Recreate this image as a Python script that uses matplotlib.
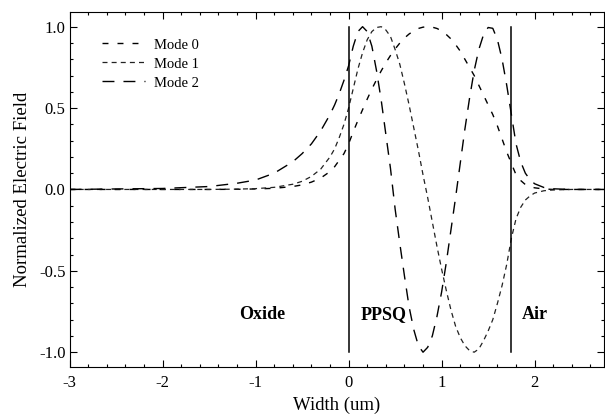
import numpy as np
import matplotlib
matplotlib.use("Agg")
import matplotlib.pyplot as plt
from matplotlib.ticker import MultipleLocator, FormatStrFormatter

plt.rcParams['font.family'] = ['Liberation Serif', 'DejaVu Serif']
plt.rcParams['axes.unicode_minus'] = False

# values (width in um, normalized field)
x_pts = [-3.0, -2.0, -1.5, -1.2, -1.0, -0.8, -0.6, -0.5, -0.4, -0.3,
         -0.2, -0.15, -0.1, -0.05, 0.0,
         0.05, 0.1, 0.15, 0.2, 0.25, 0.3, 0.35, 0.4, 0.45, 0.5,
         0.55, 0.6, 0.65, 0.7, 0.75, 0.8, 0.85, 0.9, 0.95, 1.0,
         1.05, 1.1, 1.15, 1.2, 1.25, 1.3, 1.35, 1.4, 1.45, 1.5,
         1.55, 1.6, 1.65, 1.7, 1.75,
         1.8, 1.85, 1.9, 1.95, 2.0, 2.1, 2.2, 2.4, 2.75]

mode0 = [0.0, 0.0, 0.0, 0.001, 0.003, 0.007, 0.018, 0.028, 0.045, 0.07,
         0.11, 0.14, 0.18, 0.22, 0.28,
         0.355, 0.424, 0.49, 0.555, 0.617, 0.674, 0.728, 0.778, 0.823, 0.863,
         0.899, 0.93, 0.955, 0.974, 0.989, 0.997, 1.0, 0.997, 0.989, 0.974,
         0.952, 0.925, 0.89, 0.85, 0.8, 0.75, 0.7, 0.64, 0.58, 0.52,
         0.46, 0.39, 0.31, 0.23, 0.16,
         0.09, 0.055, 0.03, 0.018, 0.01, 0.003, 0.0, 0.0, 0.0]

mode1 = [0.0, 0.0, 0.0, 0.002, 0.005, 0.013, 0.032, 0.05, 0.08, 0.125,
         0.2, 0.25, 0.32, 0.4, 0.5,
         0.62, 0.74, 0.84, 0.92, 0.97, 0.995, 1.0, 0.98, 0.94, 0.86,
         0.77, 0.65, 0.52, 0.38, 0.24, 0.09, -0.05, -0.2, -0.35, -0.49,
         -0.62, -0.74, -0.84, -0.91, -0.96, -0.99, -1.0, -0.98, -0.93, -0.87,
         -0.8, -0.7, -0.59, -0.46, -0.3,
         -0.18, -0.11, -0.065, -0.04, -0.022, -0.008, -0.003, 0.0, 0.0]

mode2 = [0.0, 0.006, 0.018, 0.038, 0.058, 0.1, 0.17, 0.22, 0.28, 0.36,
         0.46, 0.52, 0.59, 0.67, 0.76,
         0.88, 0.97, 1.0, 0.97, 0.88, 0.73, 0.55, 0.34, 0.13, -0.12,
         -0.33, -0.53, -0.72, -0.86, -0.96, -1.0, -0.97, -0.9, -0.78, -0.63,
         -0.45, -0.25, -0.05, 0.16, 0.37, 0.56, 0.73, 0.86, 0.95, 0.995,
         0.99, 0.92, 0.8, 0.64, 0.46,
         0.28, 0.17, 0.1, 0.06, 0.035, 0.012, 0.004, 0.0, 0.0]

boundaries = [0.0, 1.75]
regions = ["Oxide", "PPSQ", "Air"]
region_x = [-0.93, 0.38, 2.0]

fig = plt.figure(figsize=(6.05, 4.15), dpi=100)
ax = fig.add_axes([0.115, 0.116, 0.884, 0.855])

ax.plot(x_pts, mode0, color="black", lw=1.0, dashes=(4.3, 6.5), label="Mode 0")
ax.plot(x_pts, mode1, color="#222222", lw=0.9, dashes=(4.0, 3.3), label="Mode 1")
ax.plot(x_pts, mode2, color="black", lw=1.0, dashes=(8.6, 6.5), label="Mode 2")

for b in boundaries:
    ax.plot([b, b], [-1.0, 1.0], color="black", lw=1.1)
for name, xx in zip(regions, region_x):
    ax.text(xx, -0.77, name, ha="center", va="center", fontsize=13, fontweight="bold")

ax.set_xlim(-3.0, 2.75)
ax.set_ylim(-1.09, 1.09)
ax.xaxis.set_major_locator(MultipleLocator(1))
ax.xaxis.set_minor_locator(MultipleLocator(0.2))
ax.yaxis.set_major_locator(MultipleLocator(0.5))
ax.yaxis.set_minor_locator(MultipleLocator(0.1))
ax.xaxis.set_major_formatter(FormatStrFormatter('%d'))
ax.yaxis.set_major_formatter(FormatStrFormatter('%.1f'))
ax.tick_params(which="both", direction="in", top=True, right=True, labelsize=12, width=0.8)
ax.tick_params(which="major", length=5)
ax.tick_params(which="minor", length=2.5)
ax.tick_params(axis="x", pad=6)
ax.tick_params(axis="y", pad=3)

ax.set_xlabel("Width (um)", fontsize=13.5, labelpad=4)
ax.set_ylabel("Normalized Electric Field", fontsize=13.5, labelpad=6)

ax.legend(loc="upper left", bbox_to_anchor=(0.06, 0.926), frameon=False, fontsize=10.5,
          handlelength=3.0, handletextpad=0.6, labelspacing=0.4, borderpad=0, borderaxespad=0)

fig.savefig("out.png", dpi=100)
